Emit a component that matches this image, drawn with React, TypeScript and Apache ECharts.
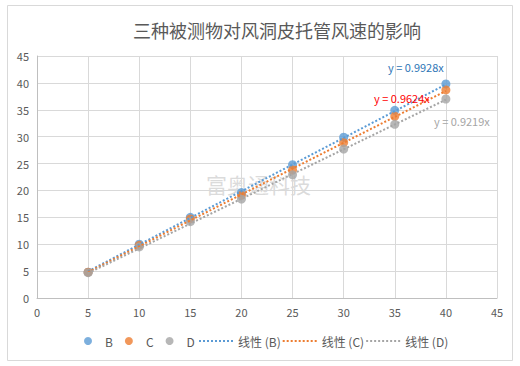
import React, { useEffect, useRef } from "react";
import * as echarts from "echarts";

const xValues = [5, 10, 15, 20, 25, 30, 35, 40];
const seriesB = [4.8, 10.0, 15.0, 19.6, 24.8, 29.9, 34.9, 39.8];
const seriesC = [4.8, 9.8, 14.7, 19.1, 23.8, 28.9, 33.8, 38.7];
const seriesD = [4.7, 9.5, 14.2, 18.4, 22.9, 27.7, 32.3, 37.0];
const seriesNames = ["B", "C", "D"];
const slopes = [0.9928, 0.9624, 0.9219];
const equations = ["y = 0.9928x", "y = 0.9624x", "y = 0.9219x"];
const colors = ["#5B9BD5", "#ED7D31", "#A5A5A5"];
const eqColors = ["#2E75B6", "#FF0000", "#A5A5A5"];
const eqOffsets = [[-30, -17], [-44, 7], [16, 21]];
const axisTicks = [0, 5, 10, 15, 20, 25, 30, 35, 40, 45];

const font = "'Noto Sans CJK SC', 'Noto Sans', sans-serif";

export default function App() {
  const ref = useRef<HTMLDivElement>(null);
  useEffect(() => {
    if (!ref.current) return;
    const chart = echarts.init(ref.current, undefined, { renderer: "svg" });
    const values = [seriesB, seriesC, seriesD];
    const scatter = seriesNames.map((n, i) => ({
      name: n,
      type: "scatter",
      symbol: "circle",
      symbolSize: 9,
      itemStyle: { color: colors[i] },
      data: xValues.map((x, j) => [x, values[i][j]]),
      z: 2,
    }));
    const xMin = Math.min(...xValues);
    const xMax = Math.max(...xValues);
    const trend = seriesNames.map((n, i) => ({
      name: `线性 (${n})`,
      type: "line",
      showSymbol: true,
      symbol: "circle",
      symbolSize: 0,
      lineStyle: { color: colors[i], width: 2, type: [2, 2] },
      itemStyle: { color: colors[i] },
      data: [
        [xMin, slopes[i] * xMin],
        {
          value: [xMax, slopes[i] * xMax],
          label: {
            show: true,
            formatter: equations[i],
            color: eqColors[i],
            fontSize: 11,
            fontFamily: font,
            position: "inside",
            offset: eqOffsets[i],
          },
        },
      ],
      z: 3,
    }));
    chart.setOption({
      animation: false,
      title: {
        text: "三种被测物对风洞皮托管风速的影响",
        left: 128,
        top: 16,
        textStyle: { fontSize: 18, fontWeight: "normal", color: "#595959", fontFamily: font },
      },
      graphic: [
        {
          type: "rect",
          shape: { x: 7.5, y: 5.5, width: 505, height: 355 },
          style: { fill: "none", stroke: "#d9d9d9", lineWidth: 1 },
          silent: true,
        },
        {
          type: "text",
          left: 206,
          top: 173,
          style: { text: "富奥通科技", fontSize: 21, fill: "rgba(195,195,195,0.6)", fontFamily: font },
          silent: true,
          z: 0,
        },
      ],
      legend: [
        {
          data: seriesNames,
          left: 84,
          top: 335,
          padding: 0,
          itemWidth: 8,
          itemHeight: 8,
          itemGap: 12,
          icon: "circle",
          textStyle: { fontSize: 12, color: "#595959", fontFamily: font, padding: [0, 0, 0, 8] },
        },
        {
          data: seriesNames.map((n) => `线性 (${n})`),
          left: 198,
          top: 335,
          padding: 0,
          itemWidth: 34,
          itemHeight: 10,
          itemGap: 1,
          itemStyle: { opacity: 0 },
          textStyle: { fontSize: 12, color: "#595959", fontFamily: font },
        },
      ],
      grid: { left: 37, right: 23, top: 56, bottom: 68 },
      xAxis: {
        type: "value",
        min: axisTicks[0],
        max: axisTicks[axisTicks.length - 1],
        interval: 5,
        axisLine: { show: true, lineStyle: { color: "#bfbfbf" } },
        axisTick: { show: false },
        axisLabel: { color: "#595959", fontSize: 11, margin: 8, fontFamily: font },
        splitLine: { show: true, lineStyle: { color: "#d9d9d9" } },
      },
      yAxis: {
        type: "value",
        min: axisTicks[0],
        max: axisTicks[axisTicks.length - 1],
        interval: 5,
        axisLine: { show: true, lineStyle: { color: "#bfbfbf" } },
        axisTick: { show: false },
        axisLabel: { color: "#595959", fontSize: 11, margin: 8, fontFamily: font },
        splitLine: { show: true, lineStyle: { color: "#d9d9d9" } },
      },
      series: [...scatter, ...trend],
    });
    return () => chart.dispose();
  }, []);
  return (
    <div
      ref={ref}
      style={{ position: "fixed", left: 0, top: 0, width: 520, height: 366, background: "#fff" }}
    />
  );
}
